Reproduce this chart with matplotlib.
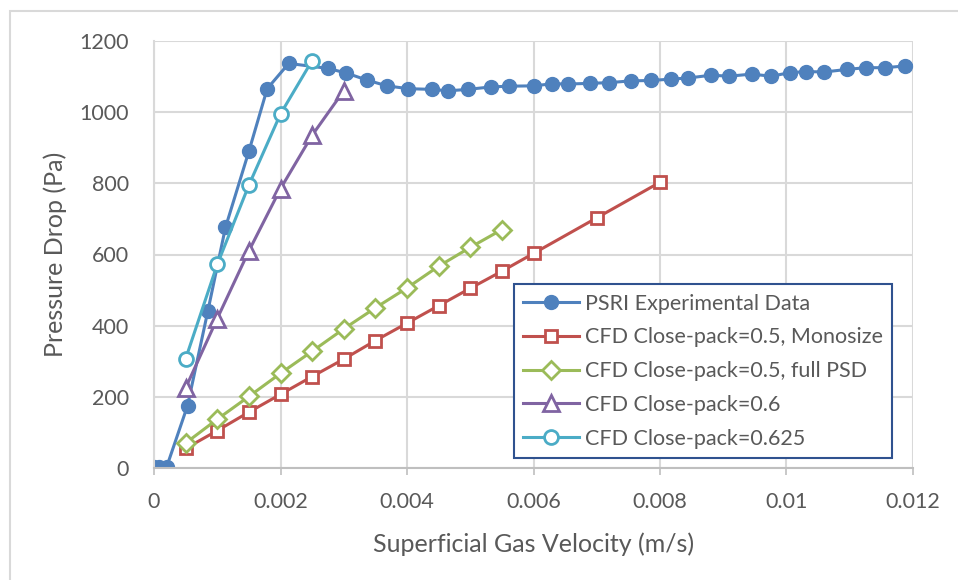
import matplotlib
matplotlib.use("Agg")
import matplotlib.pyplot as plt
from matplotlib.patches import Rectangle

# data
psri_v = [0, 0.00008, 0.0002, 0.00053, 0.00085, 0.00113, 0.0015, 0.00179, 0.00213,
          0.00275, 0.00304, 0.00337, 0.00368, 0.00402, 0.0044, 0.00465, 0.00496,
          0.00533, 0.00562, 0.00601, 0.0063, 0.00654, 0.00689, 0.0072, 0.00754,
          0.00786, 0.00818, 0.00845, 0.00881, 0.00909, 0.00945, 0.00976, 0.01005,
          0.01031, 0.0106, 0.01095, 0.01125, 0.01156, 0.01188, 0.0122]
psri_dp = [4, 3, 3, 175, 440, 676, 890, 1066, 1137, 1123, 1110, 1090, 1074, 1066,
           1064, 1060, 1064, 1071, 1073, 1074, 1080, 1079, 1081, 1083, 1088, 1089,
           1093, 1096, 1104, 1101, 1107, 1101, 1111, 1114, 1113, 1120, 1125, 1125,
           1130, 1135]

mono_v = [0.0005, 0.001, 0.0015, 0.002, 0.0025, 0.003, 0.0035, 0.004, 0.0045,
          0.005, 0.0055, 0.006, 0.007, 0.008]
mono_dp = [55, 105, 157, 207, 257, 306, 358, 407, 456, 505, 553, 603, 703, 803]

psd_v = [0.0005, 0.001, 0.0015, 0.002, 0.0025, 0.003, 0.0035, 0.004, 0.0045, 0.005, 0.0055]
psd_dp = [70, 137, 201, 266, 328, 391, 450, 506, 567, 620, 670]

cp06_v = [0.0005, 0.001, 0.0015, 0.002, 0.0025, 0.003]
cp06_dp = [225, 420, 610, 785, 935, 1060]

cp0625_v = [0.0005, 0.001, 0.0015, 0.002, 0.0025]
cp0625_dp = [307, 572, 795, 995, 1145]

x_ticks = [0, 0.002, 0.004, 0.006, 0.008, 0.01, 0.012]
x_labels = ["0", "0.002", "0.004", "0.006", "0.008", "0.01", "0.012"]
y_ticks = [0, 200, 400, 600, 800, 1000, 1200]

plt.rcParams['font.family'] = ['Lato', 'DejaVu Sans']
txt = "#595959"
grid = "#D9D9D9"

fig = plt.figure(figsize=(9.58, 5.8), dpi=100)
ax = fig.add_axes([154/958, 1-468/580, (913-154)/958, (468-41)/580])

# chart area border
fig.patches.append(Rectangle((10/958, -0.1), 1.2, 1-11/580+0.1, transform=fig.transFigure,
                             fill=False, edgecolor=grid, lw=1.5))

lw = 2.2
ax.plot(psri_v, psri_dp, c="#4F81BD", lw=lw, marker="o", ms=10, mfc="#4F81BD",
        mec="#4F81BD", label="PSRI Experimental Data")
ax.plot(mono_v, mono_dp, c="#C0504D", lw=lw, marker="s", ms=9, mfc="white",
        mec="#C0504D", mew=2, label="CFD Close-pack=0.5, Monosize")
ax.plot(psd_v, psd_dp, c="#9BBB59", lw=lw, marker="D", ms=9, mfc="white",
        mec="#9BBB59", mew=2, label="CFD Close-pack=0.5, full PSD")
ax.plot(cp06_v, cp06_dp, c="#8064A2", lw=lw, marker="^", ms=11, mfc="white",
        mec="#8064A2", mew=2, label="CFD Close-pack=0.6")
ax.plot(cp0625_v, cp0625_dp, c="#4BACC6", lw=lw, marker="o", ms=10, mfc="white",
        mec="#4BACC6", mew=2, label="CFD Close-pack=0.625")

ax.set_xlim(0, 0.012)
ax.set_ylim(0, 1200)
ax.set_xticks(x_ticks)
ax.set_xticklabels(x_labels)
ax.set_yticks(y_ticks)
ax.grid(True, color=grid, lw=1.5)
ax.set_axisbelow(True)
for s in ["top", "right"]:
    ax.spines[s].set_visible(False)
ax.spines["left"].set_color(grid)
ax.spines["left"].set_linewidth(1.5)
ax.spines["bottom"].set_color("#BFBFBF")
ax.spines["bottom"].set_linewidth(1.5)
ax.tick_params(axis="x", direction="out", length=5, width=1.2, color="#BFBFBF",
               labelsize=15.5, labelcolor=txt, pad=12)
ax.tick_params(axis="y", length=0, labelsize=15.5, labelcolor=txt, pad=18)

ax.set_xlabel("Superficial Gas Velocity (m/s)", fontsize=18, color=txt, labelpad=15)
ax.set_ylabel("Pressure Drop (Pa)", fontsize=18, color=txt, labelpad=9)

leg = ax.legend(loc="upper left", bbox_to_anchor=(0.474, 0.431), borderaxespad=0,
                fontsize=15.5, frameon=True, fancybox=False, framealpha=1,
                edgecolor="#2F528F", handlelength=2.6, handletextpad=0.25,
                labelspacing=0.64, borderpad=0.45)
leg.get_frame().set_linewidth(1.5)
for t in leg.get_texts():
    t.set_color(txt)

plt.savefig("out.png", dpi=100)
